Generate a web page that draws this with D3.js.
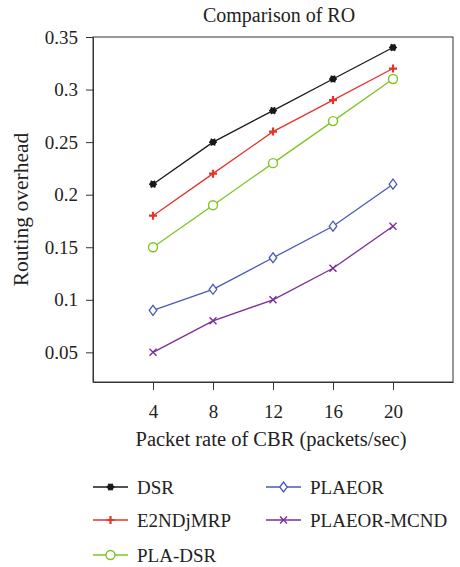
<!DOCTYPE html>
<html>
<head>
<meta charset="utf-8">
<script src="https://cdn.jsdelivr.net/npm/d3@7"></script>
<style>
  body { margin: 0; background: #fff; }
  svg text { font-family: "Liberation Serif", "DejaVu Serif", serif; }
</style>
</head>
<body>
<svg id="chart"></svg>
<script>
var WIDTH = 460;
var HEIGHT = 567;

// data
var rates = [4, 8, 12, 16, 20];
var seriesNames = ["DSR", "E2NDjMRP", "PLA-DSR", "PLAEOR", "PLAEOR-MCND"];
var dsr = [0.21, 0.25, 0.28, 0.31, 0.34];
var e2ndjmrp = [0.18, 0.22, 0.26, 0.29, 0.32];
var plaDsr = [0.15, 0.19, 0.23, 0.27, 0.31];
var plaeor = [0.09, 0.11, 0.14, 0.17, 0.21];
var plaeorMcnd = [0.05, 0.08, 0.10, 0.13, 0.17];
var yTicks = [0.05, 0.1, 0.15, 0.2, 0.25, 0.3, 0.35];
var yTickLabels = ["0.05", "0.1", "0.15", "0.2", "0.25", "0.3", "0.35"];

var colors = ["#1a1a1a", "#e5352b", "#7fc423", "#4b58b8", "#7a2e98"];
var markers = ["star", "plus", "circle", "diamond", "cross"];

var plotLeft = 93, plotRight = 453, plotTop = 37, plotBottom = 382;

var svg = d3.select("#chart")
    .attr("width", WIDTH)
    .attr("height", HEIGHT);

var x = d3.scaleLinear().domain([0, 24]).range([plotLeft, plotRight]);
var y = d3.scaleLinear().domain([0.0218, 0.35]).range([plotBottom, plotTop]);

// frame
svg.append("rect")
    .attr("x", plotLeft).attr("y", plotTop)
    .attr("width", plotRight - plotLeft).attr("height", plotBottom - plotTop)
    .attr("fill", "none").attr("stroke", "#333").attr("stroke-width", 1);

var xAxis = svg.append("g")
    .attr("transform", "translate(0," + plotBottom + ")")
    .call(d3.axisBottom(x).tickValues(rates).tickSize(8).tickPadding(15).tickSizeOuter(0));
xAxis.select(".domain").attr("stroke", "#333");
xAxis.selectAll("line").attr("stroke", "#333");
xAxis.selectAll("text").attr("font-size", 19).attr("fill", "#222")
    .attr("font-family", "Liberation Serif");

var yAxis = svg.append("g")
    .attr("transform", "translate(" + plotLeft + ",0)")
    .call(d3.axisLeft(y).tickValues(yTicks).tickSize(7).tickPadding(8).tickSizeOuter(0)
        .tickFormat(function(d, i) { return yTickLabels[i]; }));
yAxis.select(".domain").attr("stroke", "#333");
yAxis.selectAll("line").attr("stroke", "#333");
yAxis.selectAll("text").attr("font-size", 19).attr("fill", "#222")
    .attr("font-family", "Liberation Serif");

// titles
svg.append("text")
    .attr("x", 279).attr("y", 22)
    .attr("text-anchor", "middle").attr("font-size", 20).attr("fill", "#222")
    .text("Comparison of RO");

svg.append("text")
    .attr("x", 271).attr("y", 446)
    .attr("text-anchor", "middle").attr("font-size", 20.5).attr("fill", "#222")
    .text("Packet rate of CBR (packets/sec)");

svg.append("text")
    .attr("transform", "translate(28," + ((plotTop + plotBottom) / 2) + ") rotate(-90)")
    .attr("text-anchor", "middle").attr("font-size", 21.5).attr("fill", "#222")
    .text("Routing overhead");

function drawMarker(g, type, color, cx, cy) {
    if (type === "star") {
        g.append("circle").attr("cx", cx).attr("cy", cy).attr("r", 3.2).attr("fill", color);
        [0, 60, 120].forEach(function(a) {
            var r = a * Math.PI / 180;
            g.append("line")
                .attr("x1", cx - 4 * Math.cos(r)).attr("y1", cy - 4 * Math.sin(r))
                .attr("x2", cx + 4 * Math.cos(r)).attr("y2", cy + 4 * Math.sin(r))
                .attr("stroke", color).attr("stroke-width", 1.4);
        });
    } else if (type === "plus") {
        g.append("path")
            .attr("d", "M" + (cx - 4) + "," + cy + "H" + (cx + 4) + "M" + cx + "," + (cy - 4) + "V" + (cy + 4))
            .attr("stroke", color).attr("stroke-width", 2.2).attr("fill", "none");
    } else if (type === "circle") {
        g.append("circle").attr("cx", cx).attr("cy", cy).attr("r", 4.5)
            .attr("fill", "#fff").attr("stroke", color).attr("stroke-width", 1.4);
    } else if (type === "diamond") {
        g.append("path")
            .attr("d", "M" + cx + "," + (cy - 5) + "L" + (cx + 3.8) + "," + cy + "L" + cx + "," + (cy + 5) + "L" + (cx - 3.8) + "," + cy + "Z")
            .attr("fill", "#fff").attr("stroke", color).attr("stroke-width", 1.3);
    } else if (type === "cross") {
        g.append("path")
            .attr("d", "M" + (cx - 3.5) + "," + (cy - 3.5) + "L" + (cx + 3.5) + "," + (cy + 3.5) + "M" + (cx + 3.5) + "," + (cy - 3.5) + "L" + (cx - 3.5) + "," + (cy + 3.5))
            .attr("stroke", color).attr("stroke-width", 1.4).attr("fill", "none");
    }
}

var allSeries = [dsr, e2ndjmrp, plaDsr, plaeor, plaeorMcnd];
var line = d3.line()
    .x(function(d, i) { return x(rates[i]); })
    .y(function(d) { return y(d); });

allSeries.forEach(function(vals, s) {
    var g = svg.append("g");
    g.append("path")
        .datum(vals)
        .attr("d", line)
        .attr("fill", "none")
        .attr("stroke", colors[s])
        .attr("stroke-width", 1.3);
    vals.forEach(function(v, i) {
        drawMarker(g, markers[s], colors[s], x(rates[i]), y(v));
    });
});

// legend
var legendPos = [[93, 487], [93, 520], [93, 555], [266, 487], [266, 520]];
seriesNames.forEach(function(name, s) {
    var g = svg.append("g");
    var lx = legendPos[s][0], ly = legendPos[s][1];
    g.append("line")
        .attr("x1", lx).attr("x2", lx + 35)
        .attr("y1", ly).attr("y2", ly)
        .attr("stroke", colors[s]).attr("stroke-width", 1.3);
    drawMarker(g, markers[s], colors[s], lx + 17.5, ly);
    g.append("text")
        .attr("x", lx + 44).attr("y", ly + 7)
        .attr("font-size", 19).attr("fill", "#222")
        .text(name);
});
</script>
</body>
</html>
